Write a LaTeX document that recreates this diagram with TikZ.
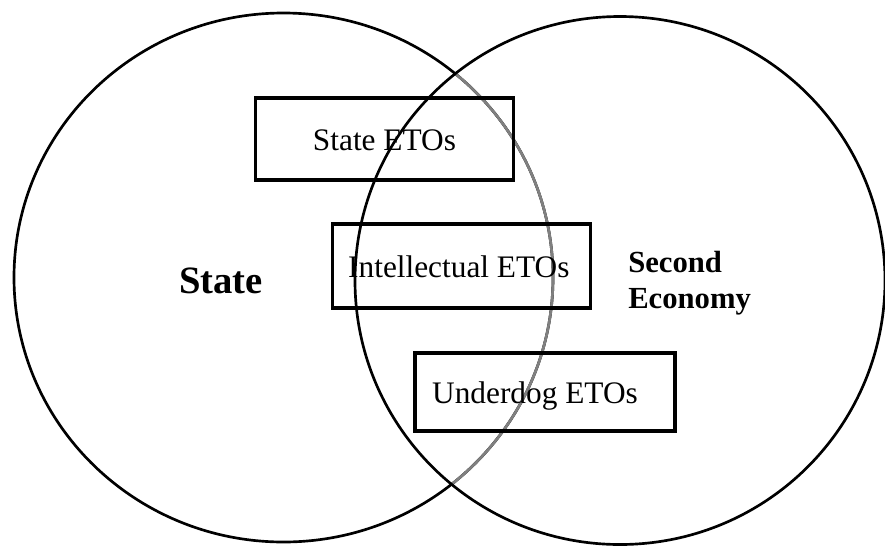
\documentclass[tikz,border=0pt]{standalone}
\usepackage{fontspec}
\setmainfont{Liberation Serif}

\tikzset{
  ring/.style={line width=2pt},
  etobox/.style={draw, line width=2.3pt, inner sep=0pt, font=\fontsize{23.5}{26}\selectfont,
    text height=16.5pt, text depth=0pt},
  setlabel/.style={inner sep=0pt, font=\bfseries}
}

\begin{document}
\begin{tikzpicture}[x=0.75pt,y=0.75pt,yscale=-1,xscale=1]
\useasboundingbox (0,0) rectangle (885,547);
\clip (0,0) rectangle (885,547);

%Shape: Ellipse [left set]
\draw [ring] (283.5,277.5) ellipse [x radius=269.5, y radius=264.5];
% the part of the left set that lies in the right one is lighter
\begin{scope}
  \clip (620,280.5) ellipse [x radius=265, y radius=264];
  \draw [ring, color=black!50] (283.5,277.5) ellipse [x radius=269.5, y radius=264.5];
\end{scope}
%Shape: Ellipse [right set]
\draw [ring] (620,280.5) ellipse [x radius=265, y radius=264];

% Boxes
\node [etobox, minimum width=194pt, minimum height=61.5pt] (stateeto) at (384.5,139) {State ETOs};
\node [etobox, minimum width=193pt, minimum height=63pt] (intelleto) at (461.5,266) {Intellectual ETOs\hspace*{4pt}};
\node [etobox, minimum width=195pt, minimum height=58.5pt] (underdogeto) at (545,392) {Underdog ETOs\hspace*{15pt}};

% Text Node
\node [setlabel, font=\fontsize{29}{32}\selectfont\bfseries] (state) at (221,281) {State};
% Text Node
\node [setlabel, font=\fontsize{23}{27}\selectfont\bfseries, align=left, anchor=west] (second) at (628,283) {Second\\Economy};

\end{tikzpicture}
\end{document}
